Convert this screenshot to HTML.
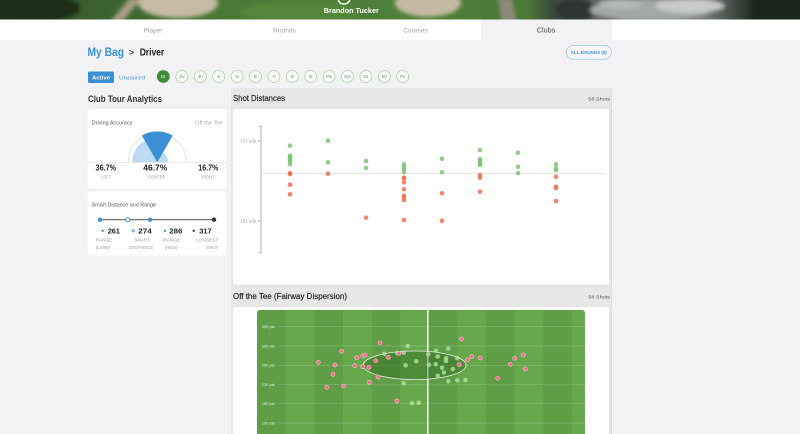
<!DOCTYPE html>
<html><head><meta charset="utf-8"><style>
html,body{margin:0;padding:0;width:800px;height:434px;overflow:hidden;background:#f2f1f3;}
svg{display:block}
</style></head><body>
<svg width="800" height="434" viewBox="0 0 800 434" xmlns="http://www.w3.org/2000/svg" font-family="'Liberation Sans', sans-serif">
<defs>
 <filter id="bl" x="-30%" y="-100%" width="160%" height="300%"><feGaussianBlur stdDeviation="2.2"/></filter>
 <linearGradient id="hg" x1="0" x2="1" y1="0" y2="0">
  <stop offset="0" stop-color="#243a20"/>
  <stop offset="0.1" stop-color="#3a5e2e"/>
  <stop offset="0.3" stop-color="#4b7b36"/>
  <stop offset="0.5" stop-color="#4f8038"/>
  <stop offset="0.66" stop-color="#4a7935"/>
  <stop offset="0.69" stop-color="#3a4a3a"/>
  <stop offset="0.74" stop-color="#5d635f"/>
  <stop offset="0.88" stop-color="#7a7f7b"/>
  <stop offset="0.93" stop-color="#2f3a30"/>
  <stop offset="1" stop-color="#1b271b"/>
 </linearGradient>
 <clipPath id="hdr"><rect x="0" y="0" width="800" height="19.5"/></clipPath>
 <clipPath id="fc"><rect x="257" y="310" width="328" height="140" rx="3"/></clipPath>
</defs>

<rect x="0" y="0" width="800" height="434" fill="#f2f1f3"/>

<g clip-path="url(#hdr)">
 <rect x="0" y="0" width="800" height="20" fill="url(#hg)"/>
 <g filter="url(#bl)">
  <ellipse cx="35" cy="8" rx="45" ry="14" fill="#1c2e19"/>
  <polygon points="110,22 122,22 142,-2 130,-2" fill="#a89c84"/>
  <ellipse cx="178" cy="3" rx="40" ry="15" fill="#c6baa3"/>
  <ellipse cx="300" cy="12" rx="60" ry="10" fill="#55873a"/>
  <ellipse cx="428" cy="3" rx="33" ry="14" fill="#c4b9a3"/>
  <polygon points="502,22 516,22 512,-2 498,-2" fill="#8f8a7a"/>
  <ellipse cx="575" cy="10" rx="20" ry="12" fill="#2f3532"/>
  <ellipse cx="650" cy="10" rx="60" ry="11" fill="#a3a8a5"/>
  <ellipse cx="690" cy="6" rx="35" ry="7" fill="#c8cbc9"/>
  <ellipse cx="620" cy="4" rx="22" ry="5" fill="#b5b9b6"/>
  <rect x="750" y="-5" width="60" height="30" fill="#1a261b"/>
 </g>
 <path d="M338,-1 Q339,4 344,4 Q349,4 350,-1" fill="none" stroke="#ffffff" stroke-width="1.4"/>
 <text x="351.3" y="13" font-size="7.5" font-weight="bold" fill="#ffffff" text-anchor="middle" textLength="55" lengthAdjust="spacingAndGlyphs">Brandon Tucker</text>
</g>

<rect x="0" y="19.5" width="800" height="20.5" fill="#ffffff"/>
<rect x="481" y="19.5" width="131" height="20.5" fill="#f2f1f3"/>
<text x="153" y="32.3" font-size="6.6" fill="#a3a3a3" text-anchor="middle">Player</text>
<text x="284.5" y="32.3" font-size="6.6" fill="#a3a3a3" text-anchor="middle">Rounds</text>
<text x="415.5" y="32.3" font-size="6.6" fill="#a3a3a3" text-anchor="middle">Courses</text>
<text x="546" y="32.5" font-size="7.2" fill="#444444" text-anchor="middle">Clubs</text>

<text x="87.5" y="56" font-size="11.5" font-weight="bold" fill="#3b8fd4" textLength="36.5" lengthAdjust="spacingAndGlyphs">My Bag</text>
<text x="129" y="55.6" font-size="9" font-weight="bold" fill="#555555">&gt;</text>
<text x="139.7" y="55.7" font-size="9.8" font-weight="bold" fill="#222222" textLength="24.5" lengthAdjust="spacingAndGlyphs">Driver</text>

<rect x="566.3" y="45.6" width="45" height="13.6" rx="6.8" fill="#f7f7f9" stroke="#9cc8e6" stroke-width="0.8"/>
<text x="588.8" y="54" font-size="4.6" font-weight="bold" fill="#3b8fd4" text-anchor="middle" textLength="36" lengthAdjust="spacingAndGlyphs">ALL ROUNDS (9)</text>

<rect x="88" y="71.5" width="26" height="11.5" rx="1.5" fill="#3b8fd4"/>
<text x="101" y="79.3" font-size="5.8" font-weight="bold" fill="#ffffff" text-anchor="middle" textLength="18" lengthAdjust="spacingAndGlyphs">Active</text>
<text x="119" y="79.3" font-size="5.8" fill="#5aa0dc" textLength="26.3" lengthAdjust="spacingAndGlyphs">Unpaired</text>

<g font-size="4.4" text-anchor="middle">
 <circle cx="163.3" cy="76.5" r="6.4" fill="#3f8c3c"/>
 <text x="163.3" y="78.1" fill="#ffffff">Dr</text>
 <g fill="#fafafa" stroke="#a5d49c" stroke-width="0.8">
  <circle cx="181.8" cy="76.5" r="6"/><circle cx="200.3" cy="76.5" r="6"/><circle cx="218.7" cy="76.5" r="6"/>
  <circle cx="237.1" cy="76.5" r="6"/><circle cx="255.5" cy="76.5" r="6"/><circle cx="273.9" cy="76.5" r="6"/>
  <circle cx="292.3" cy="76.5" r="6"/><circle cx="310.7" cy="76.5" r="6"/><circle cx="329.1" cy="76.5" r="6"/>
  <circle cx="347.5" cy="76.5" r="6"/><circle cx="365.9" cy="76.5" r="6"/><circle cx="384.3" cy="76.5" r="6"/>
  <circle cx="402.7" cy="76.5" r="6"/>
 </g>
 <g fill="#6f9c6a">
  <text x="181.8" y="78.1">3w</text><text x="200.3" y="78.1">3h</text><text x="218.7" y="78.1">4i</text>
  <text x="237.1" y="78.1">5i</text><text x="255.5" y="78.1">6i</text><text x="273.9" y="78.1">7i</text>
  <text x="292.3" y="78.1">8i</text><text x="310.7" y="78.1">9i</text><text x="329.1" y="78.1">Pw</text>
  <text x="347.5" y="78.1">Gw</text><text x="365.9" y="78.1">54</text><text x="384.3" y="78.1">60</text>
  <text x="402.7" y="78.1">Pu</text>
 </g>
</g>

<text x="88" y="102" font-size="9.3" font-weight="bold" fill="#333333" textLength="74" lengthAdjust="spacingAndGlyphs">Club Tour Analytics</text>

<rect x="87.5" y="109" width="139" height="79.5" rx="3" fill="#ffffff"/>
<text x="91.7" y="124.5" font-size="5.2" fill="#555555" textLength="40.6" lengthAdjust="spacingAndGlyphs">Driving Accuracy</text>
<text x="222.7" y="124.5" font-size="5.2" fill="#aaaaaa" text-anchor="end" textLength="27.7" lengthAdjust="spacingAndGlyphs">Off the Tee</text>
<line x1="87.5" y1="162.3" x2="226.5" y2="162.3" stroke="#e6e6e6" stroke-width="0.8"/>
<path d="M128.3,162.3 A29,29 0 0 1 186.3,162.3" fill="none" stroke="#dedede" stroke-width="0.8"/>
<path d="M157.3,162.3 L132.3,162.3 A25,25 0 0 1 144.8,140.6 Z" fill="#bcdaf2"/>
<path d="M157.3,162.3 L162.8,152.8 A11,11 0 0 1 168.3,162.3 Z" fill="#bcdaf2"/>
<path d="M157.3,162.3 L141.8,135.5 A31,31 0 0 1 172.8,135.5 Z" fill="#3b8fd4"/>

<g font-weight="bold" font-size="8" fill="#222222" text-anchor="middle">
 <text x="105.8" y="170.7" textLength="20.5" lengthAdjust="spacingAndGlyphs">36.7%</text>
 <text x="155.3" y="170.7" textLength="24" lengthAdjust="spacingAndGlyphs">46.7%</text>
 <text x="208.3" y="170.7" textLength="20" lengthAdjust="spacingAndGlyphs">16.7%</text>
</g>
<g font-size="4.2" fill="#9a9a9a" text-anchor="middle">
 <text x="106.2" y="178.3">LEFT</text>
 <text x="156.8" y="178.3">CENTER</text>
 <text x="208.3" y="178.3">RIGHT</text>
</g>

<rect x="87.5" y="191.5" width="139" height="64" rx="3" fill="#ffffff"/>
<text x="91.7" y="206.5" font-size="5.2" fill="#555555" textLength="64.3" lengthAdjust="spacingAndGlyphs">Smart Distance and Range</text>
<line x1="100" y1="219.7" x2="214" y2="219.7" stroke="#666666" stroke-width="1.2"/>
<circle cx="100" cy="219.7" r="2.2" fill="#3b8fd4"/>
<circle cx="127.7" cy="219.7" r="2" fill="#ffffff" stroke="#3b8fd4" stroke-width="1"/>
<circle cx="150" cy="219.7" r="2.2" fill="#3b8fd4"/>
<circle cx="214" cy="219.7" r="2.2" fill="#333333"/>

<circle cx="102.7" cy="230.8" r="1.2" fill="#3b8fd4"/>
<circle cx="133.3" cy="230.8" r="1.2" fill="none" stroke="#3b8fd4" stroke-width="0.7"/>
<circle cx="165" cy="230.8" r="1.2" fill="#3b8fd4"/>
<circle cx="193.7" cy="230.8" r="1.2" fill="#333333"/>
<g font-weight="bold" font-size="7.5" fill="#222222">
 <text x="107.7" y="233.4" textLength="12.3" lengthAdjust="spacingAndGlyphs">261</text>
 <text x="138.3" y="233.4" textLength="13.4" lengthAdjust="spacingAndGlyphs">274</text>
 <text x="169.3" y="233.4" textLength="13" lengthAdjust="spacingAndGlyphs">286</text>
 <text x="199.3" y="233.4" textLength="12.4" lengthAdjust="spacingAndGlyphs">317</text>
</g>
<g font-size="4.2" fill="#9a9a9a">
 <text x="95.7" y="241.5" textLength="16.6" lengthAdjust="spacingAndGlyphs">RANGE</text>
 <text x="95.7" y="249.2" textLength="14.3" lengthAdjust="spacingAndGlyphs">(LOW)</text>
 <text x="134.3" y="241.5" textLength="15.4" lengthAdjust="spacingAndGlyphs">SMART</text>
 <text x="129.3" y="249.2" textLength="24" lengthAdjust="spacingAndGlyphs">DISTANCE</text>
 <text x="163.3" y="241.5" textLength="17" lengthAdjust="spacingAndGlyphs">RANGE</text>
 <text x="165" y="249.2" textLength="12.3" lengthAdjust="spacingAndGlyphs">(HIGH)</text>
 <text x="196" y="241.5" textLength="22.3" lengthAdjust="spacingAndGlyphs">LONGEST</text>
 <text x="206" y="249.2" textLength="12.3" lengthAdjust="spacingAndGlyphs">SHOT</text>
</g>

<rect x="231" y="88" width="380.5" height="360" rx="2" fill="#e7e7e8"/>
<line x1="611.5" y1="88" x2="611.5" y2="434" stroke="#dcdcdd" stroke-width="1"/>

<text x="233" y="101.2" font-size="8" fill="#2a2a2a" stroke="#2a2a2a" stroke-width="0.2" textLength="52" lengthAdjust="spacingAndGlyphs">Shot Distances</text>
<text x="610" y="100.5" font-size="4.5" fill="#555555" text-anchor="end" textLength="21.7" lengthAdjust="spacingAndGlyphs">58 Shots</text>
<rect x="233" y="109" width="376" height="175.5" rx="2.5" fill="#ffffff"/>

<line x1="261" y1="126" x2="261" y2="253" stroke="#9a9a9a" stroke-width="0.8"/>
<line x1="258.5" y1="126.2" x2="261" y2="126.2" stroke="#9a9a9a" stroke-width="0.8"/>
<line x1="258.5" y1="252.8" x2="261" y2="252.8" stroke="#9a9a9a" stroke-width="0.8"/>
<line x1="257" y1="141" x2="261" y2="141" stroke="#9a9a9a" stroke-width="0.6"/>
<line x1="257" y1="221" x2="261" y2="221" stroke="#9a9a9a" stroke-width="0.6"/>
<text x="256" y="142.6" font-size="4.5" fill="#999999" text-anchor="end">317 yds</text>
<text x="256" y="222.6" font-size="4.5" fill="#999999" text-anchor="end">151 yds</text>
<line x1="261" y1="173.3" x2="606" y2="173.3" stroke="#d8d8d8" stroke-width="0.6"/>

<g fill="#7cc474" fill-opacity="0.85">
 <circle cx="290" cy="145.7" r="2.3"/><circle cx="290" cy="155.7" r="2.3"/><circle cx="290" cy="157" r="2.3"/><circle cx="290" cy="158.3" r="2.3"/><circle cx="290" cy="159.7" r="2.3"/><circle cx="290" cy="161" r="2.3"/><circle cx="290" cy="164.3" r="2.3"/>
 <circle cx="328" cy="140.7" r="2.3"/><circle cx="328" cy="162.3" r="2.3"/>
 <circle cx="366" cy="161" r="2.3"/><circle cx="366" cy="168" r="2.3"/>
 <circle cx="404" cy="164.3" r="2.3"/><circle cx="404" cy="166.7" r="2.3"/><circle cx="404" cy="169" r="2.3"/><circle cx="404" cy="172.3" r="2.3"/>
 <circle cx="442" cy="158.7" r="2.3"/><circle cx="442" cy="172.3" r="2.3"/>
 <circle cx="480" cy="150" r="2.3"/><circle cx="480" cy="159" r="2.3"/><circle cx="480" cy="161" r="2.3"/><circle cx="480" cy="162.3" r="2.3"/><circle cx="480" cy="163.7" r="2.3"/><circle cx="480" cy="165" r="2.3"/>
 <circle cx="518" cy="152.7" r="2.3"/><circle cx="518" cy="166.7" r="2.3"/><circle cx="518" cy="173" r="2.3"/>
 <circle cx="556" cy="164.3" r="2.3"/><circle cx="556" cy="168.3" r="2.3"/><circle cx="556" cy="170" r="2.3"/>
</g>
<g fill="#f0704f" fill-opacity="0.85">
 <circle cx="290" cy="173.3" r="2.3"/><circle cx="290" cy="174" r="2.3"/><circle cx="290" cy="184.7" r="2.3"/><circle cx="290" cy="194.3" r="2.3"/>
 <circle cx="328" cy="173.7" r="2.3"/>
 <circle cx="366" cy="217.7" r="2.3"/>
 <circle cx="404" cy="177.7" r="2.3"/><circle cx="404" cy="178.3" r="2.3"/><circle cx="404" cy="182.3" r="2.3"/><circle cx="404" cy="189.3" r="2.3"/><circle cx="404" cy="195.7" r="2.3"/><circle cx="404" cy="197.3" r="2.3"/><circle cx="404" cy="200" r="2.3"/><circle cx="404" cy="220" r="2.3"/>
 <circle cx="442" cy="193.3" r="2.3"/><circle cx="442" cy="220.7" r="2.3"/>
 <circle cx="480" cy="175" r="2.3"/><circle cx="480" cy="177.7" r="2.3"/><circle cx="480" cy="191.7" r="2.3"/>
 <circle cx="556" cy="176.7" r="2.3"/><circle cx="556" cy="186.7" r="2.3"/><circle cx="556" cy="188" r="2.3"/><circle cx="556" cy="201" r="2.3"/>
</g>

<text x="233" y="299" font-size="8" fill="#2a2a2a" stroke="#2a2a2a" stroke-width="0.2" textLength="114" lengthAdjust="spacingAndGlyphs">Off the Tee (Fairway Dispersion)</text>
<text x="610" y="298.5" font-size="4.5" fill="#555555" text-anchor="end" textLength="21.7" lengthAdjust="spacingAndGlyphs">58 Shots</text>
<rect x="233" y="307" width="376" height="140" rx="2.5" fill="#ffffff"/>

<g clip-path="url(#fc)">
 <rect x="257" y="310" width="328" height="140" fill="#68a84d"/>
 <g fill="#5f9d46">
  <rect x="257" y="310" width="28.7" height="140"/>
  <rect x="314.3" y="310" width="28.7" height="140"/>
  <rect x="371.7" y="310" width="28.6" height="140"/>
  <rect x="428.3" y="310" width="29" height="140"/>
  <rect x="486" y="310" width="28.3" height="140"/>
  <rect x="543.3" y="310" width="28.4" height="140"/>
 </g>
 <g stroke="#ffffff" stroke-opacity="0.22" stroke-width="0.7">
  <line x1="278" y1="326.7" x2="585" y2="326.7"/>
  <line x1="278" y1="346" x2="585" y2="346"/>
  <line x1="278" y1="365.3" x2="585" y2="365.3"/>
  <line x1="278" y1="384.7" x2="585" y2="384.7"/>
  <line x1="278" y1="403.7" x2="585" y2="403.7"/>
  <line x1="278" y1="423" x2="585" y2="423"/>
 </g>
 <g font-size="3.8" fill="#ffffff" fill-opacity="0.85">
  <text x="261.7" y="328">350 yds</text>
  <text x="261.7" y="347.3">300 yds</text>
  <text x="261.7" y="366.6">250 yds</text>
  <text x="261.7" y="386">200 yds</text>
  <text x="261.7" y="405">150 yds</text>
  <text x="261.7" y="424.3">100 yds</text>
 </g>
 <line x1="427.8" y1="310" x2="427.8" y2="440" stroke="#ffffff" stroke-width="1.5"/>
 <ellipse cx="414.7" cy="365.3" rx="51.3" ry="14.3" fill="#2f6a1f" fill-opacity="0.45" stroke="#ffffff" stroke-opacity="0.85" stroke-width="0.8"/>

 <g fill="#b9e3a9" fill-opacity="0.75">
  <circle cx="384.3" cy="353.7" r="2.3"/><circle cx="397.3" cy="353" r="2.3"/><circle cx="403.7" cy="352.7" r="2.3"/>
  <circle cx="407.7" cy="346" r="2.3"/><circle cx="405.7" cy="365.3" r="2.3"/><circle cx="416.3" cy="361.3" r="2.3"/>
  <circle cx="403.7" cy="383.3" r="2.3"/><circle cx="412" cy="403.3" r="2.3"/><circle cx="418.7" cy="402.7" r="2.3"/>
  <circle cx="428.3" cy="354.3" r="2.3"/><circle cx="429" cy="364.7" r="2.3"/><circle cx="436" cy="350.7" r="2.3"/>
  <circle cx="437.7" cy="356.5" r="2.3"/><circle cx="435.7" cy="364.3" r="2.3"/><circle cx="448.3" cy="348.5" r="2.3"/>
  <circle cx="446" cy="358.3" r="2.3"/><circle cx="446" cy="361" r="2.3"/><circle cx="442" cy="367.8" r="2.3"/>
  <circle cx="444" cy="372.5" r="2.3"/><circle cx="437.8" cy="375.8" r="2.3"/><circle cx="452.7" cy="369" r="2.3"/>
  <circle cx="457.3" cy="358.3" r="2.3"/><circle cx="448.3" cy="381.3" r="2.3"/><circle cx="457.3" cy="380.2" r="2.3"/>
  <circle cx="465.5" cy="380" r="2.3"/>
 </g>
 <g fill="#ee6f8a" stroke="#f8b8c4" stroke-width="0.7">
  <circle cx="318.3" cy="362.3" r="2"/><circle cx="341.7" cy="351.3" r="2"/><circle cx="335" cy="365" r="2"/>
  <circle cx="333" cy="374.3" r="2"/><circle cx="326.7" cy="387.3" r="2"/><circle cx="343.7" cy="386" r="2"/>
  <circle cx="356.7" cy="357.7" r="2"/><circle cx="354.7" cy="365.7" r="2"/><circle cx="362.7" cy="356" r="2"/>
  <circle cx="365" cy="355" r="2"/><circle cx="362.7" cy="366.7" r="2"/><circle cx="369" cy="367.3" r="2"/>
  <circle cx="380" cy="342.7" r="2"/><circle cx="375.7" cy="360.7" r="2"/><circle cx="378" cy="377" r="2"/>
  <circle cx="369.3" cy="382.3" r="2"/><circle cx="388.3" cy="357.3" r="2"/><circle cx="399" cy="353.3" r="2"/>
  <circle cx="397" cy="401" r="2"/><circle cx="461.5" cy="339" r="2"/><circle cx="459.2" cy="364.6" r="2"/>
  <circle cx="467.5" cy="359.7" r="2"/><circle cx="471.8" cy="356.5" r="2"/><circle cx="480.3" cy="358" r="2"/>
  <circle cx="497.7" cy="378.2" r="2"/><circle cx="510.3" cy="364.3" r="2"/><circle cx="514.7" cy="358.3" r="2"/>
  <circle cx="523.3" cy="355" r="2"/><circle cx="525.3" cy="369" r="2"/>
 </g>
</g>
</svg>
</body></html>
